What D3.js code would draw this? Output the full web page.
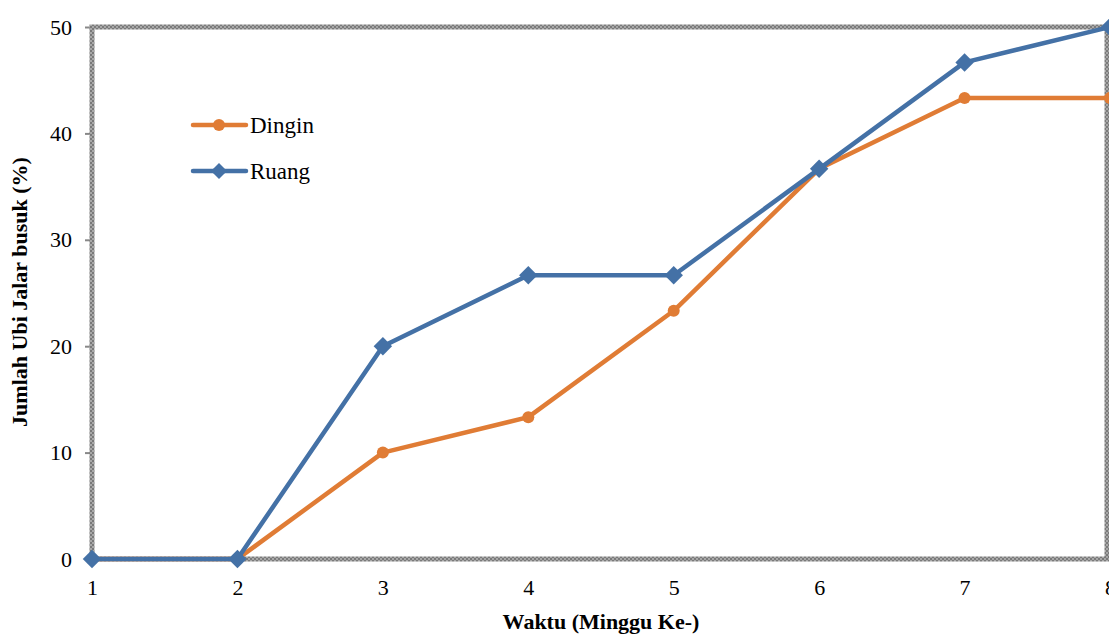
<!DOCTYPE html>
<html>
<head>
  <script src="https://cdn.jsdelivr.net/npm/d3@7"></script>
  <style>
    body { margin: 0; background: #fff; }
    svg text { font-family: "Liberation Serif", "Times New Roman", serif !important; }
  </style>
</head>
<body>
<script>
  // chart data
  const weeks = [1, 2, 3, 4, 5, 6, 7, 8];
  const dingin = [0, 0, 10, 13.33, 23.33, 36.67, 43.33, 43.33];
  const ruang = [0, 0, 20, 26.67, 26.67, 36.67, 46.67, 50];
  const yTicks = [0, 10, 20, 30, 40, 50];
  const seriesNames = ["Dingin", "Ruang"];

  const w = 1109, h = 635;
  const plotLeft = 92, plotRight = 1110, plotTop = 27, plotBottom = 559;

  const svg = d3.select("body").append("svg")
    .attr("width", w).attr("height", h);

  const x = d3.scaleLinear().domain([1, 8]).range([plotLeft, plotRight]);
  const y = d3.scaleLinear().domain([0, 50]).range([plotBottom, plotTop]);

  // y axis ticks + labels
  const yAxis = svg.append("g")
    .attr("transform", `translate(${plotLeft},0)`)
    .call(d3.axisLeft(y).tickValues(yTicks).tickSize(7).tickPadding(13));
  yAxis.select(".domain").remove();
  yAxis.selectAll("line").attr("stroke", "#888").attr("stroke-width", 2);
  yAxis.selectAll("text").attr("font-size", 22).attr("fill", "#000");

  // x axis labels
  const xAxis = svg.append("g")
    .attr("transform", `translate(0,${plotBottom})`)
    .call(d3.axisBottom(x).tickValues(weeks).tickFormat(d3.format("d")).tickSize(0).tickPadding(20));
  xAxis.select(".domain").remove();
  xAxis.selectAll("text").attr("font-size", 22).attr("fill", "#000");

  // hatched plot border
  const pat = svg.append("defs").append("pattern")
    .attr("id", "hatch").attr("width", 4).attr("height", 4)
    .attr("patternUnits", "userSpaceOnUse");
  pat.append("rect").attr("width", 4).attr("height", 4).attr("fill", "#a8a8a8");
  pat.append("rect").attr("width", 2).attr("height", 2).attr("fill", "#7a7a7a");
  pat.append("rect").attr("x", 2).attr("y", 2).attr("width", 2).attr("height", 2).attr("fill", "#7a7a7a");

  svg.append("rect")
    .attr("x", plotLeft).attr("y", plotTop)
    .attr("width", 1107 - plotLeft).attr("height", plotBottom - plotTop)
    .attr("fill", "none")
    .attr("stroke", "url(#hatch)")
    .attr("stroke-width", 5);

  const line = d3.line()
    .x((d, i) => x(weeks[i]))
    .y(d => y(d));

  const orange = "#e07c35";
  const blue = "#4471a6";

  // Dingin (orange, circles)
  svg.append("path").datum(dingin)
    .attr("d", line).attr("fill", "none")
    .attr("stroke", orange).attr("stroke-width", 4.5).attr("stroke-linejoin", "round");
  svg.selectAll("circle.dingin").data(dingin).enter().append("circle")
    .attr("class", "dingin")
    .attr("cx", (d, i) => x(weeks[i])).attr("cy", d => y(d))
    .attr("r", 6).attr("fill", orange);

  // Ruang (blue, diamonds)
  svg.append("path").datum(ruang)
    .attr("d", line).attr("fill", "none")
    .attr("stroke", blue).attr("stroke-width", 4.5).attr("stroke-linejoin", "round");
  const diamond = d3.symbol().type(d3.symbolSquare).size(170);
  svg.selectAll("path.ruang").data(ruang).enter().append("path")
    .attr("class", "ruang")
    .attr("d", diamond)
    .attr("transform", (d, i) => `translate(${x(weeks[i])},${y(d)}) rotate(45)`)
    .attr("fill", blue);

  // legend
  const legend = svg.append("g");
  const colors = [orange, blue];
  seriesNames.forEach((name, i) => {
    const ly = 125 + i * 46;
    legend.append("line")
      .attr("x1", 193).attr("x2", 246).attr("y1", ly).attr("y2", ly)
      .attr("stroke", colors[i]).attr("stroke-width", 4.5).attr("stroke-linecap", "round");
    if (i === 0) {
      legend.append("circle").attr("cx", 219).attr("cy", ly).attr("r", 6).attr("fill", colors[i]);
    } else {
      legend.append("path").attr("d", d3.symbol().type(d3.symbolSquare).size(130))
        .attr("transform", `translate(219,${ly}) rotate(45)`).attr("fill", colors[i]);
    }
    legend.append("text")
      .attr("x", 250).attr("y", ly + 8)
      .attr("font-size", 23).attr("fill", "#000")
      .text(name);
  });

  // axis titles
  svg.append("text")
    .attr("x", 601).attr("y", 629)
    .attr("text-anchor", "middle")
    .attr("font-size", 22).attr("font-weight", "bold")
    .text("Waktu (Minggu Ke-)");

  svg.append("text")
    .attr("transform", "translate(27,292) rotate(-90)")
    .attr("text-anchor", "middle")
    .attr("font-size", 22).attr("font-weight", "bold")
    .text("Jumlah Ubi Jalar busuk (%)");
</script>
</body>
</html>
